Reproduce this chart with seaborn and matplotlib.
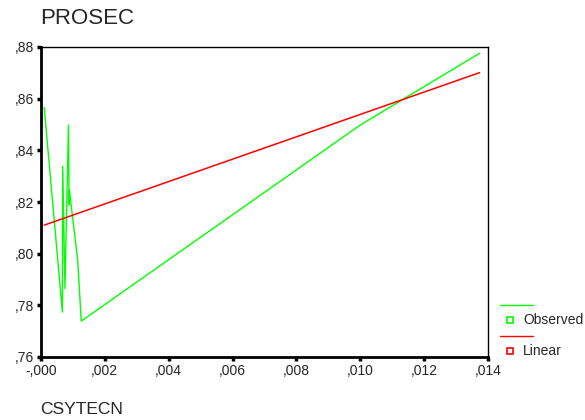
import matplotlib
matplotlib.use("Agg")
import matplotlib.pyplot as plt
from matplotlib.lines import Line2D
import numpy as np
import pandas as pd
import seaborn as sns

# Observed series (CSYTECN vs PROSEC)
csytecn = [0.0001, 0.00067, 0.00068, 0.00075, 0.00086, 0.00088, 0.00089,
           0.00115, 0.00126, 0.0100, 0.01374]
prosec = [0.8566, 0.7774, 0.8339, 0.7865, 0.8498, 0.8188, 0.8245,
          0.7974, 0.7739, 0.8498, 0.8776]

# Linear fit: PROSEC = b0 + b1 * CSYTECN
b0 = 0.8106
b1 = 4.33

x_ticks = [0.000, 0.002, 0.004, 0.006, 0.008, 0.010, 0.012, 0.014]
x_tick_labels = ["-,000", ",002", ",004", ",006", ",008", ",010", ",012", ",014"]
y_ticks = [0.76, 0.78, 0.80, 0.82, 0.84, 0.86, 0.88]
y_tick_labels = [",76", ",78", ",80", ",82", ",84", ",86", ",88"]

sns.set_style("white")
plt.rcParams["font.family"] = ["Liberation Sans", "DejaVu Sans"]

obs = pd.DataFrame({"CSYTECN": csytecn, "PROSEC": prosec})
fit_x = np.array([min(csytecn), max(csytecn)])
fit = pd.DataFrame({"CSYTECN": fit_x, "PROSEC": b0 + b1 * fit_x})

fig = plt.figure(figsize=(5.85, 4.2), dpi=100)
ax = fig.add_axes([41 / 585, 1 - 357 / 420, (488 - 41) / 585, (357 - 47) / 420])

sns.lineplot(data=obs, x="CSYTECN", y="PROSEC", sort=False, color="#00ff00",
             lw=1.0, ax=ax, estimator=None)
sns.lineplot(data=fit, x="CSYTECN", y="PROSEC", sort=False, color="#ff0000",
             lw=1.1, ax=ax, estimator=None)

ax.set_xlim(0, 0.014)
ax.set_ylim(0.76, 0.88)
ax.set_xticks(x_ticks)
ax.set_xticklabels(x_tick_labels, fontsize=10)
ax.set_yticks(y_ticks)
ax.set_yticklabels(y_tick_labels, fontsize=10)
ax.tick_params(axis="both", direction="out", length=3, width=2.5, color="black",
               pad=2, bottom=True, left=True)
ax.set_xlabel("")
ax.set_ylabel("")
for side, spine in ax.spines.items():
    spine.set_visible(True)
    spine.set_color("black")
    spine.set_linewidth(2.0 if side in ("left", "bottom") else 1.0)

fig.text(40 / 585, 1 - 19 / 420, "PROSEC", fontsize=16, ha="left", va="center")
fig.text(40 / 585, 1 - 410 / 420, "CSYTECN", fontsize=12.5, ha="left", va="center")

# Legend beside the plot
def legend_entry(y_line, y_label, color, label):
    fig.add_artist(Line2D([500 / 585, 533 / 585], [1 - y_line / 420] * 2,
                          color=color, lw=1.0, transform=fig.transFigure))
    fig.add_artist(Line2D([510 / 585], [1 - y_label / 420], marker="s",
                          markersize=4, markerfacecolor="white",
                          markeredgecolor=color, markeredgewidth=1.2,
                          linestyle="none", transform=fig.transFigure))
    fig.text(523 / 585, 1 - y_label / 420, label, fontsize=10, ha="left",
             va="center")

legend_entry(305, 320, "#00ff00", "Observed")
legend_entry(336, 351, "#ff0000", "Linear")

fig.savefig("out.png", dpi=100)
